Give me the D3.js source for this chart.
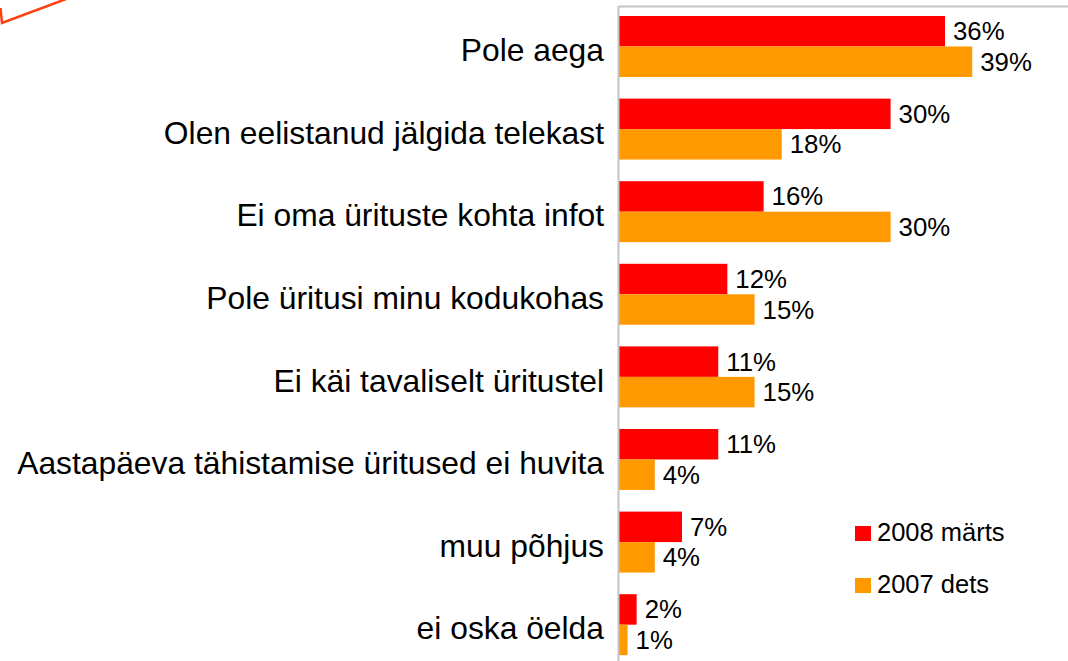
<!DOCTYPE html>
<html><head><meta charset="utf-8">
<script src="https://cdn.jsdelivr.net/npm/d3@7"></script>
<style>html,body{margin:0;padding:0;background:#fff;} svg{display:block;}</style>
</head><body>
<svg id="chart" width="1068" height="661"></svg>
<script>
const categories = [
  "Pole aega",
  "Olen eelistanud jälgida telekast",
  "Ei oma ürituste kohta infot",
  "Pole üritusi minu kodukohas",
  "Ei käi tavaliselt üritustel",
  "Aastapäeva tähistamise üritused ei huvita",
  "muu põhjus",
  "ei oska öelda"
];
const seriesNames = ["2008 märts", "2007 dets"];
const values2008 = [36, 30, 16, 12, 11, 11, 7, 2];
const values2007 = [39, 18, 30, 15, 15, 4, 4, 1];
const seriesColors = ["#ff0000", "#ff9900"];

const svg = d3.select("#chart");
const font = "'Liberation Sans', Arial, sans-serif";

const x0 = 618.5;
const x = d3.scaleLinear().domain([0, 50]).range([x0, x0 + 453.5]);
const step = 82.6;
const yTop = 16 - 0.131 * step;
const y = d3.scaleBand().domain(categories)
  .range([yTop, yTop + categories.length * step])
  .paddingInner(0.262).paddingOuter(0.131);
const ySub = d3.scaleBand().domain(seriesNames).range([0, y.bandwidth()]);

// plot frame line
svg.append("line").attr("x1", x0).attr("x2", 1068).attr("y1", 6.5).attr("y2", 6.5)
  .attr("stroke", "#c4c4c4").attr("stroke-width", 2);

// decorative shape top-left
svg.append("path").attr("d", "M0.5,8 L2,23 L66,-1")
  .attr("fill", "none").attr("stroke", "#ff4010").attr("stroke-width", 2.5);

const data = categories.map((c, i) => ({cat: c, vals: [values2008[i], values2007[i]]}));

const groups = svg.append("g").selectAll("g").data(data).join("g")
  .attr("transform", d => `translate(0,${y(d.cat)})`);

groups.selectAll("rect").data(d => d.vals.map((v, j) => ({v, s: seriesNames[j], j})))
  .join("rect")
  .attr("x", x(0))
  .attr("y", d => ySub(d.s))
  .attr("width", d => x(d.v) - x(0))
  .attr("height", ySub.bandwidth())
  .attr("fill", d => seriesColors[d.j]);

groups.selectAll("text.val").data(d => d.vals.map((v, j) => ({v, s: seriesNames[j]})))
  .join("text").attr("class", "val")
  .attr("x", d => x(d.v) + 8)
  .attr("y", d => ySub(d.s) + ySub.bandwidth() / 2 + 9)
  .attr("font-family", font).attr("font-size", 25.8).attr("fill", "#000")
  .text(d => d.v + "%");

// category labels
svg.append("g").selectAll("text").data(categories).join("text")
  .attr("x", 604)
  .attr("y", d => y(d) + y.bandwidth() / 2 + 14.7)
  .attr("text-anchor", "end")
  .attr("font-family", font).attr("font-size", 31.8).attr("fill", "#000")
  .text(d => d);

// axis line
svg.append("line").attr("x1", x0).attr("x2", x0).attr("y1", 6).attr("y2", 661)
  .attr("stroke", "#c4c4c4").attr("stroke-width", 2);

// legend
const legend = svg.append("g").selectAll("g").data(seriesNames).join("g")
  .attr("transform", (d, i) => `translate(855,${526 + i * 52})`);
legend.append("rect").attr("width", 16).attr("height", 15)
  .attr("fill", (d, i) => seriesColors[i]);
legend.append("text").attr("x", 22).attr("y", 15)
  .attr("font-family", font).attr("font-size", 25.5).attr("fill", "#000")
  .text(d => d);
</script>
</body></html>
